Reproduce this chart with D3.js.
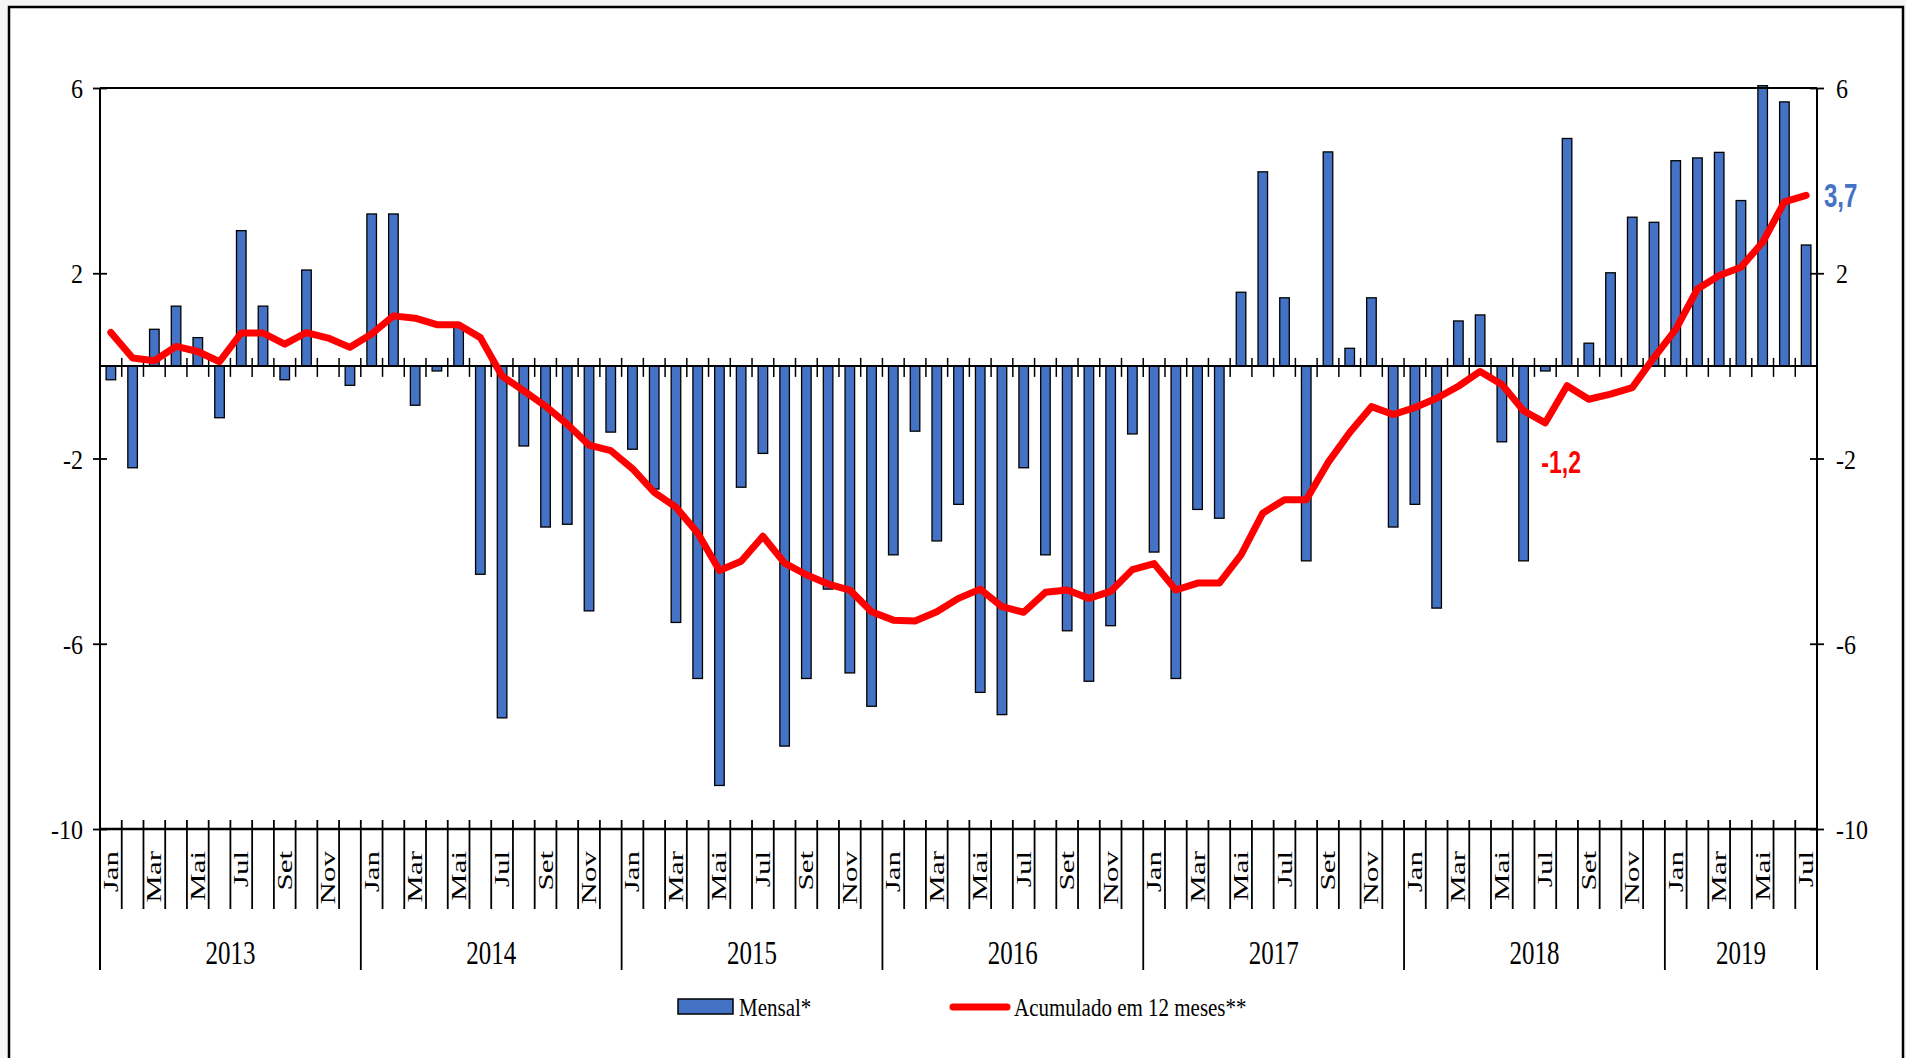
<!DOCTYPE html>
<html lang="pt">
<head>
<meta charset="UTF-8">
<title>Mensal e acumulado em 12 meses</title>
<script src="https://cdn.jsdelivr.net/npm/d3@7"></script>
<style>
  body { margin: 0; background: #f6f6f6; }
  svg { display: block; }
</style>
</head>
<body>
<svg></svg>
<script>
    // dados (jan/2013 a jul/2019)
    const years = ["2013", "2014", "2015", "2016", "2017", "2018", "2019"];
    const monthNames = ["Jan", "Fev", "Mar", "Abr", "Mai", "Jun", "Jul", "Ago", "Set", "Out", "Nov", "Dez"];
    const monthsLastYear = 7;
    const yTicks = [6, 2, -2, -6, -10];

    const mensal = [
        -0.30, -2.20, 0.79, 1.29, 0.61, -1.12, 2.92, 1.29, -0.30, 2.07, 0.00, -0.42,
        3.28, 3.28, -0.85, -0.11, 0.85, -4.50, -7.60, -1.73, -3.48, -3.42, -5.29, -1.43,
        -1.80, -2.66, -5.54, -6.75, -9.06, -2.62, -1.89, -8.21, -6.75, -4.82, -6.63, -7.35,
        -4.08, -1.41, -3.78, -2.99, -7.05, -7.53, -2.20, -4.08, -5.72, -6.81, -5.61, -1.47,
        -4.02, -6.75, -3.10, -3.29, 1.59, 4.19, 1.47, -4.21, 4.62, 0.38, 1.47, -3.48,
        -2.99, -5.23, 0.97, 1.10, -1.64, -4.21, -0.11, 4.91, 0.49, 2.01, 3.21, 3.10,
        4.43, 4.49, 4.61, 3.57, 6.05, 5.70, 2.61
    ];

    const acumulado = [
        0.72, 0.17, 0.11, 0.42, 0.31, 0.09, 0.71, 0.71, 0.47, 0.72, 0.60, 0.40,
        0.69, 1.08, 1.03, 0.89, 0.89, 0.61, -0.22, -0.54, -0.87, -1.26, -1.71, -1.83,
        -2.22, -2.73, -3.05, -3.61, -4.42, -4.22, -3.68, -4.26, -4.51, -4.71, -4.84, -5.31,
        -5.49, -5.51, -5.31, -5.02, -4.82, -5.20, -5.32, -4.89, -4.84, -5.02, -4.87, -4.40,
        -4.27, -4.84, -4.69, -4.69, -4.08, -3.18, -2.89, -2.89, -2.09, -1.44, -0.88, -1.05,
        -0.90, -0.70, -0.44, -0.12, -0.40, -0.97, -1.23, -0.43, -0.72, -0.61, -0.47, 0.18,
        0.79, 1.66, 1.95, 2.13, 2.67, 3.54, 3.68
    ];

    const legendBar = "Mensal*";
    const legendLine = "Acumulado em 12 meses**";

    // períodos (categorias)
    let periods = [];
    years.forEach(function(yr, yi) {
        let n = yi === years.length - 1 ? monthsLastYear : 12;
        for (let m = 0; m < n; m++) {
            periods.push({ key: yr + "-" + m, year: yr, m: m, label: monthNames[m] });
        }
    });
    periods.forEach(function(d, i) {
        d.mensal = mensal[i];
        d.acum = acumulado[i];
    });

    let width = 1906, height = 1058;
    let pLeft = 100, pRight = 1817, pTop = 88, pBottom = 829;

    let svg = d3.select("svg").attr("width", width).attr("height", height);

    svg.append("rect")
        .attr("x", 9).attr("y", 7)
        .attr("width", 1894).attr("height", 1070)
        .attr("fill", "#fff").attr("stroke", "#000").attr("stroke-width", 2.5);

    let keys = periods.map(d => d.key);
    let x = d3.scaleBand().domain(keys).range([pLeft, pRight]).paddingInner(0.56).paddingOuter(0.28);
    let cell = d3.scaleBand().domain(keys).range([pLeft, pRight]);
    let y = d3.scaleLinear().domain([-10, 6]).range([pBottom, pTop]);

    const serif = "'Liberation Serif', 'Times New Roman', serif";
    const fmt = v => d3.format(".1f")(v).replace(".", ",").replace("\u2212", "-");

    // texto esticado na vertical (como no original)
    function stretched(g, str, tx, ty, size, sy, anchor) {
        return g.append("text")
            .attr("transform", "translate(" + tx + "," + ty + ") scale(1," + sy + ")")
            .attr("text-anchor", anchor)
            .attr("font-family", serif)
            .attr("font-size", size)
            .attr("fill", "#000")
            .text(str);
    }

    // barras
    svg.append("g").selectAll("rect")
        .data(periods)
        .join("rect")
        .attr("x", d => x(d.key))
        .attr("width", x.bandwidth())
        .attr("y", d => y(Math.max(0, d.mensal)))
        .attr("height", d => Math.abs(y(d.mensal) - y(0)))
        .attr("fill", "#4472c4")
        .attr("stroke", "#000")
        .attr("stroke-width", 1.3);

    // linha do zero com marcas cruzadas
    let zero = svg.append("g");
    zero.append("line")
        .attr("x1", pLeft).attr("x2", pRight)
        .attr("y1", y(0)).attr("y2", y(0))
        .attr("stroke", "#000").attr("stroke-width", 2);
    zero.selectAll("line.tk")
        .data(keys.slice(1))
        .join("line")
        .attr("class", "tk")
        .attr("x1", d => cell(d)).attr("x2", d => cell(d))
        .attr("y1", y(0) - 8).attr("y2", y(0) + 11)
        .attr("stroke", "#000").attr("stroke-width", 1.5);

    // moldura da área do gráfico
    svg.append("line")
        .attr("x1", pLeft).attr("x2", pRight).attr("y1", pTop).attr("y2", pTop)
        .attr("stroke", "#000").attr("stroke-width", 2);

    // eixos y (esquerda e direita)
    let axL = svg.append("g")
        .attr("transform", "translate(" + pLeft + ",0)")
        .call(d3.axisLeft(y).tickValues(yTicks).tickSize(7).tickFormat(d3.format("d")));
    let axR = svg.append("g")
        .attr("transform", "translate(" + pRight + ",0)")
        .call(d3.axisRight(y).tickValues(yTicks).tickSize(7).tickFormat(d3.format("d")));
    [axL, axR].forEach(function(ax) {
        ax.select(".domain").remove();
        ax.selectAll(".tick line").attr("x1", -7).attr("x2", 7).attr("stroke-width", 1.8);
        ax.selectAll(".tick text").remove();
    });
    yTicks.forEach(function(t) {
        stretched(svg, t, pLeft - 17, y(t) + 10, 24, 1.1, "end");
        stretched(svg, t, pRight + 19, y(t) + 10, 24, 1.1, "start");
    });
    [pLeft, pRight].forEach(function(px) {
        svg.append("line")
            .attr("x1", px).attr("x2", px).attr("y1", pTop).attr("y2", 970)
            .attr("stroke", "#000").attr("stroke-width", 2);
    });

    // eixo de categorias (em -10)
    let cat = svg.append("g");
    cat.append("line")
        .attr("x1", pLeft).attr("x2", pRight)
        .attr("y1", pBottom).attr("y2", pBottom)
        .attr("stroke", "#000").attr("stroke-width", 2.5);
    cat.selectAll("line.sep")
        .data(keys.slice(1))
        .join("line")
        .attr("class", "sep")
        .attr("x1", d => cell(d)).attr("x2", d => cell(d))
        .attr("y1", pBottom - 9)
        .attr("y2", d => d.endsWith("-0") ? 970 : 909)
        .attr("stroke", "#000").attr("stroke-width", 1.8);

    cat.selectAll("text.mes")
        .data(periods.filter(d => d.m % 2 === 0))
        .join("text")
        .attr("class", "mes")
        .attr("transform", d => "translate(" + (cell(d.key) + cell.bandwidth() / 2) + "," + (pBottom + 22) + ") rotate(-90) scale(1.55,1)")
        .attr("dy", "0.35em")
        .attr("text-anchor", "end")
        .attr("font-family", serif)
        .attr("font-size", 20)
        .text(d => d.label);

    years.forEach(function(yr) {
        let ks = periods.filter(d => d.year === yr);
        let x0 = cell(ks[0].key), x1 = cell(ks[ks.length - 1].key) + cell.bandwidth();
        stretched(cat, yr, (x0 + x1) / 2, 964, 25, 1.35, "middle");
    });

    // linha acumulado
    let line = d3.line()
        .x(d => x(d.key) + x.bandwidth() / 2)
        .y(d => y(d.acum));
    svg.append("path")
        .datum(periods)
        .attr("d", line)
        .attr("fill", "none")
        .attr("stroke", "#ff0000")
        .attr("stroke-width", 7)
        .attr("stroke-linejoin", "round")
        .attr("stroke-linecap", "round");

    // rótulos de destaque
    let last = periods[periods.length - 1];
    svg.append("text")
        .attr("transform", "translate(" + (pRight + 7) + "," + (y(last.acum) + 12) + ") scale(1,1.4)")
        .attr("font-family", "'Liberation Sans', Arial, sans-serif")
        .attr("font-weight", "bold")
        .attr("font-size", 24)
        .attr("fill", "#4472c4")
        .text(fmt(last.acum));

    let minPt = periods.find(d => d.key === "2018-6");
    svg.append("text")
        .attr("transform", "translate(" + (x(minPt.key) + x.bandwidth() / 2 - 4) + "," + (y(minPt.acum) + 50) + ") scale(1,1.4)")
        .attr("font-family", "'Liberation Sans', Arial, sans-serif")
        .attr("font-weight", "bold")
        .attr("font-size", 23)
        .attr("fill", "#ff0000")
        .text(fmt(minPt.acum));

    // legenda
    let leg = svg.append("g");
    leg.append("rect")
        .attr("x", 678).attr("y", 999).attr("width", 55).attr("height", 15)
        .attr("fill", "#4472c4").attr("stroke", "#000").attr("stroke-width", 1.5);
    stretched(leg, legendBar, 739, 1016, 21, 1.22, "start");
    leg.append("line")
        .attr("x1", 953).attr("x2", 1007).attr("y1", 1007).attr("y2", 1007)
        .attr("stroke", "#ff0000").attr("stroke-width", 7).attr("stroke-linecap", "round");
    stretched(leg, legendLine, 1014, 1016, 21, 1.22, "start");
</script>
</body>
</html>
